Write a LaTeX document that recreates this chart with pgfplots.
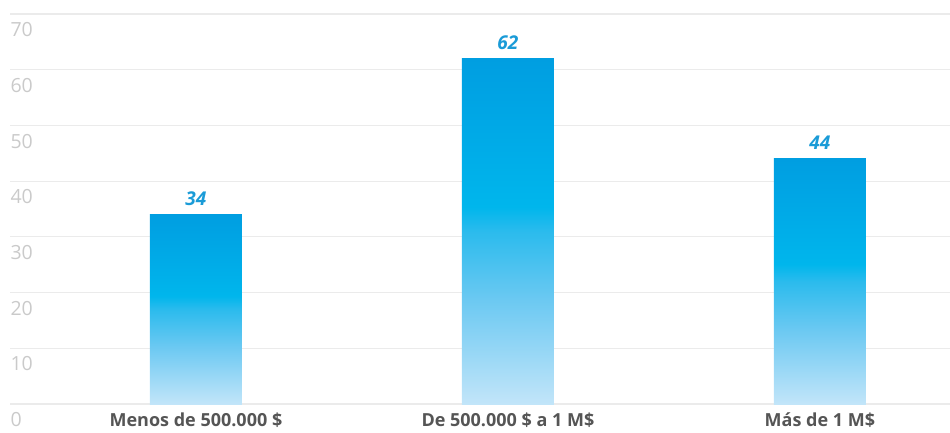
\documentclass[border=0pt]{standalone}
\usepackage{fontspec}
\setmainfont{Open Sans}
\usepackage{pgfplots}
\pgfplotsset{compat=1.18}

\definecolor{gridgray}{HTML}{EBEBEB}
\definecolor{ticklabelgray}{HTML}{CACACA}
\definecolor{catgray}{HTML}{555555}
\definecolor{valueblue}{HTML}{1A9BD7}
\definecolor{bartop}{HTML}{009EE1}
\definecolor{barupper}{HTML}{00ACE8}
\definecolor{barmid}{HTML}{00B6EC}
\definecolor{barknee}{HTML}{2BBBED}
\definecolor{barlow}{HTML}{6CC9F2}
\definecolor{barbottom}{HTML}{C2E5F9}

% vertical fill of each bar: pale at the base, bright cyan a little above
% the middle, deeper blue at the top (stops within the 25bp--75bp band)
\pgfdeclareverticalshading{barshade}{100bp}{%
  color(0bp)=(barbottom);
  color(25bp)=(barbottom);
  color(40bp)=(barlow);
  color(50bp)=(barknee);
  color(53.5bp)=(barmid);
  color(62bp)=(barupper);
  color(75bp)=(bartop);
  color(100bp)=(bartop)}

\begin{document}
\begin{tikzpicture}
\path[use as bounding box] (0,0) rectangle (950pt,432pt);
\begin{axis}[
  at={(10pt,28pt)}, anchor=south west,
  scale only axis,
  width=940pt, height=390pt,
  xmin=-0.596, xmax=2.417,
  ymin=0, ymax=70,
  ytick={0,10,...,70},
  xtick={0,1,2},
  xticklabels={Menos de 500.000 \$, De 500.000 \$ a 1 M\$, Más de 1 M\$},
  axis line style={draw=none},
  major tick length=0pt,
  ymajorgrids,
  grid style={gridgray, line width=1.2pt},
  /pgf/number format/assume math mode=true,
  yticklabel style={anchor=north west, xshift=-3pt, yshift=-5pt,
    font=\fontsize{19.5}{22}\selectfont, text=ticklabelgray},
  xticklabel style={font=\fontsize{18}{21}\selectfont\bfseries, text=catgray,
    yshift=-5pt},
  ybar, bar width=92pt, bar shift=0pt,
  nodes near coords,
  every node near coord/.append style={
    font=\fontsize{19}{22}\selectfont\bfseries\itshape, text=valueblue,
    anchor=south, yshift=5.5pt},
  clip=false,
]
% one plot per bar, so that each bar carries its own full-height shading
\addplot[draw=none, shading=barshade] coordinates {(0,34)};
\addplot[draw=none, shading=barshade] coordinates {(1,62)};
\addplot[draw=none, shading=barshade] coordinates {(2,44)};
\end{axis}
\end{tikzpicture}
\end{document}
